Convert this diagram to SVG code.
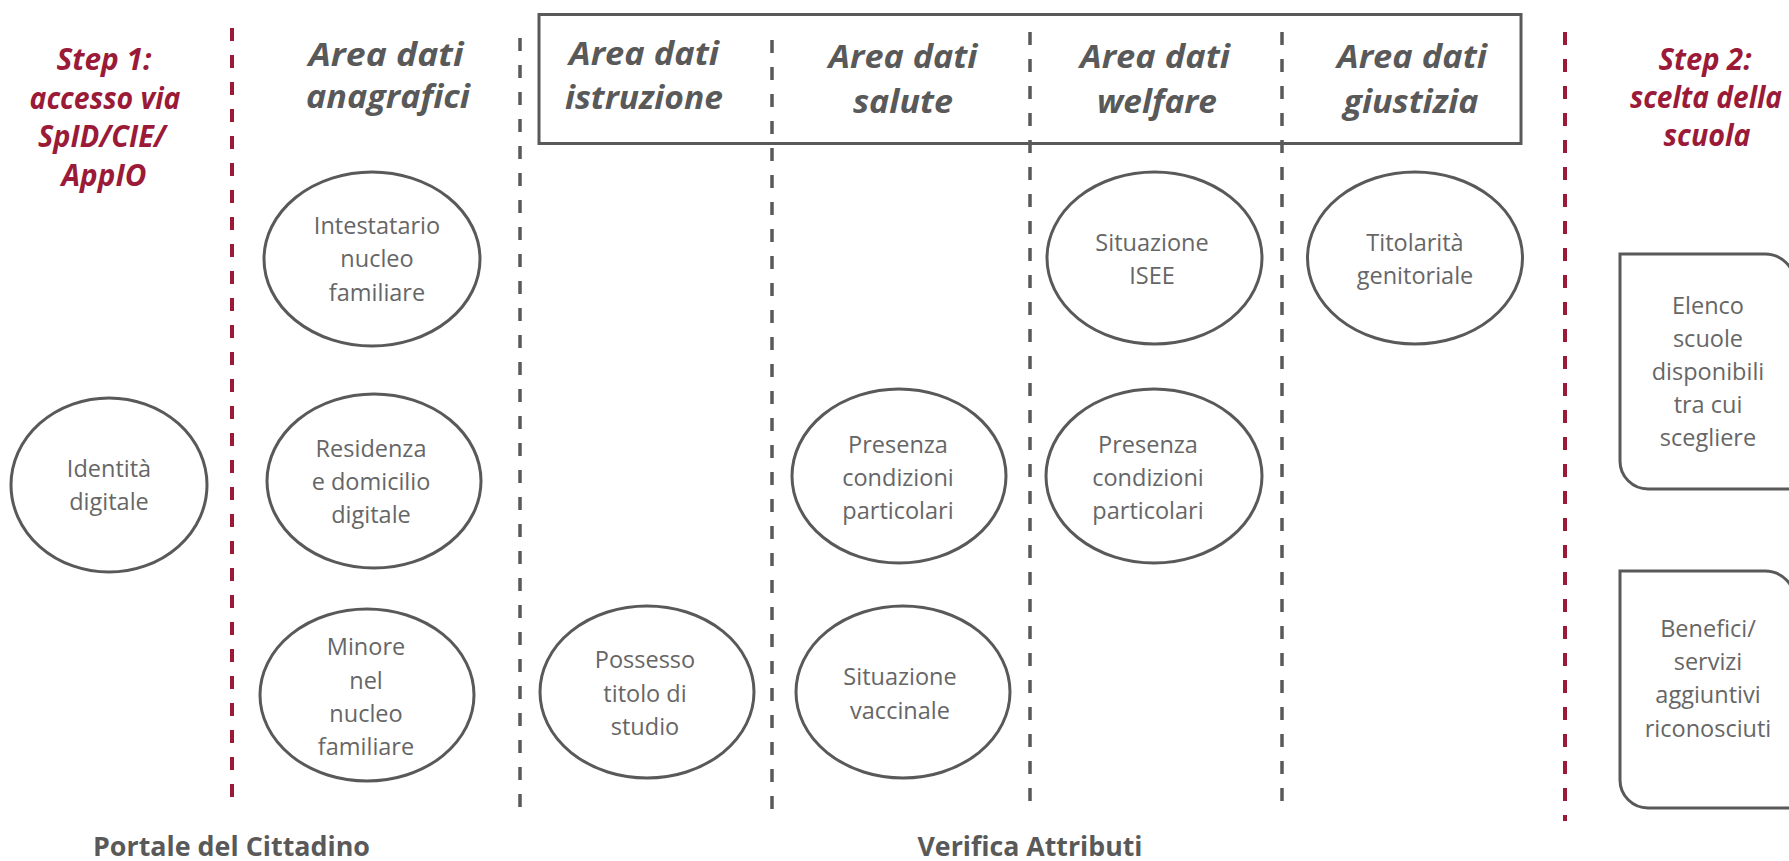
<svg xmlns="http://www.w3.org/2000/svg" width="1789" height="861" viewBox="0 0 1789 861">
  <style>
    .bg { fill: #ffffff; }
    .red { stroke: #9a1a38; stroke-width: 4; stroke-dasharray: 13 14; fill: none; }
    .gray { stroke: #595959; stroke-width: 3.5; stroke-dasharray: 13 14; fill: none; }
    .frame { stroke: #595959; stroke-width: 3; fill: none; }
    .node { stroke: #595959; stroke-width: 3; fill: #ffffff; }
    .step { font-family: "Open Sans", "Liberation Sans", sans-serif; font-weight: bold; font-style: italic; font-size: 30px; fill: #9a1a38; text-anchor: middle; }
    .head { font-family: "Open Sans", "Liberation Sans", sans-serif; font-weight: bold; font-style: italic; font-size: 32px; fill: #595959; text-anchor: middle; }
    .lbl { font-family: "Open Sans", "Liberation Sans", sans-serif; font-size: 23.5px; fill: #666666; text-anchor: middle; }
    .foot { font-family: "Open Sans", "Liberation Sans", sans-serif; font-weight: bold; font-size: 26px; fill: #595959; text-anchor: middle; }
  </style>
  <rect class="bg" x="0" y="0" width="1789" height="861"/>

  <g id="separators">
    <line class="red" x1="232" y1="28" x2="232" y2="808"/>
    <line class="gray" x1="520" y1="38" x2="520" y2="818"/>
    <line class="gray" x1="772" y1="40" x2="772" y2="818"/>
    <line class="gray" x1="1030" y1="32" x2="1030" y2="812"/>
    <line class="gray" x1="1282" y1="32" x2="1282" y2="812"/>
    <line class="red" x1="1565" y1="32" x2="1565" y2="821"/>
  </g>

  <g id="header-frame">
    <rect class="frame" x="539" y="14.5" width="982" height="129"/>
  </g>

  <g id="step1">
    <text class="step" x="104" y="70" textLength="95" lengthAdjust="spacingAndGlyphs">Step 1:</text>
    <text class="step" x="105" y="108.5" textLength="151" lengthAdjust="spacingAndGlyphs">accesso via</text>
    <text class="step" x="102" y="147" textLength="128" lengthAdjust="spacingAndGlyphs">SpID/CIE/</text>
    <text class="step" x="104" y="185.5" textLength="85" lengthAdjust="spacingAndGlyphs">AppIO</text>
  </g>

  <g id="step2">
    <text class="step" x="1705" y="70" textLength="93" lengthAdjust="spacingAndGlyphs">Step 2:</text>
    <text class="step" x="1706" y="108" textLength="152" lengthAdjust="spacingAndGlyphs">scelta della</text>
    <text class="step" x="1707" y="146" textLength="87" lengthAdjust="spacingAndGlyphs">scuola</text>
  </g>

  <g id="head-anagrafici">
    <text class="head" x="386" y="66" textLength="155" lengthAdjust="spacingAndGlyphs">Area dati</text>
    <text class="head" x="388" y="108" textLength="164" lengthAdjust="spacingAndGlyphs">anagrafici</text>
  </g>
  <g id="head-istruzione">
    <text class="head" x="644" y="65" textLength="150" lengthAdjust="spacingAndGlyphs">Area dati</text>
    <text class="head" x="644" y="109" textLength="158" lengthAdjust="spacingAndGlyphs">istruzione</text>
  </g>
  <g id="head-salute">
    <text class="head" x="903" y="68" textLength="149" lengthAdjust="spacingAndGlyphs">Area dati</text>
    <text class="head" x="903" y="113" textLength="100" lengthAdjust="spacingAndGlyphs">salute</text>
  </g>
  <g id="head-welfare">
    <text class="head" x="1155" y="68" textLength="150" lengthAdjust="spacingAndGlyphs">Area dati</text>
    <text class="head" x="1157" y="113" textLength="120" lengthAdjust="spacingAndGlyphs">welfare</text>
  </g>
  <g id="head-giustizia">
    <text class="head" x="1412" y="68" textLength="150" lengthAdjust="spacingAndGlyphs">Area dati</text>
    <text class="head" x="1411" y="113" textLength="135" lengthAdjust="spacingAndGlyphs">giustizia</text>
  </g>

  <g id="identita">
    <ellipse class="node" cx="109" cy="485" rx="98" ry="87"/>
    <text class="lbl" x="109" y="477">Identità</text>
    <text class="lbl" x="109" y="510">digitale</text>
  </g>

  <g id="intestatario">
    <ellipse class="node" cx="372" cy="259" rx="108" ry="87"/>
    <text class="lbl" x="377" y="233.5">Intestatario</text>
    <text class="lbl" x="377" y="267">nucleo</text>
    <text class="lbl" x="377" y="300.5">familiare</text>
  </g>

  <g id="residenza">
    <ellipse class="node" cx="374" cy="481" rx="107" ry="87"/>
    <text class="lbl" x="371" y="457">Residenza</text>
    <text class="lbl" x="371" y="490">e domicilio</text>
    <text class="lbl" x="371" y="523">digitale</text>
  </g>

  <g id="minore">
    <ellipse class="node" cx="367" cy="695" rx="107" ry="86"/>
    <text class="lbl" x="366" y="655">Minore</text>
    <text class="lbl" x="366" y="688.5">nel</text>
    <text class="lbl" x="366" y="721.5">nucleo</text>
    <text class="lbl" x="366" y="754.5">familiare</text>
  </g>

  <g id="possesso">
    <ellipse class="node" cx="647" cy="692" rx="107" ry="86"/>
    <text class="lbl" x="645" y="668">Possesso</text>
    <text class="lbl" x="645" y="701.5">titolo di</text>
    <text class="lbl" x="645" y="735">studio</text>
  </g>

  <g id="presenza-salute">
    <ellipse class="node" cx="899" cy="476" rx="107" ry="87"/>
    <text class="lbl" x="898" y="453">Presenza</text>
    <text class="lbl" x="898" y="486">condizioni</text>
    <text class="lbl" x="898" y="519">particolari</text>
  </g>

  <g id="vaccinale">
    <ellipse class="node" cx="903" cy="692" rx="107" ry="86"/>
    <text class="lbl" x="900" y="685">Situazione</text>
    <text class="lbl" x="900" y="718.5">vaccinale</text>
  </g>

  <g id="isee">
    <ellipse class="node" cx="1154.5" cy="258" rx="107.5" ry="86"/>
    <text class="lbl" x="1152" y="251">Situazione</text>
    <text class="lbl" x="1152" y="284">ISEE</text>
  </g>

  <g id="presenza-welfare">
    <ellipse class="node" cx="1154" cy="476" rx="108" ry="87"/>
    <text class="lbl" x="1148" y="453">Presenza</text>
    <text class="lbl" x="1148" y="486">condizioni</text>
    <text class="lbl" x="1148" y="519">particolari</text>
  </g>

  <g id="titolarita">
    <ellipse class="node" cx="1415" cy="258" rx="107.5" ry="86"/>
    <text class="lbl" x="1415" y="251">Titolarità</text>
    <text class="lbl" x="1415" y="284">genitoriale</text>
  </g>

  <g id="elenco-scuole">
    <path class="node" d="M1620,254 H1765 A30,30 0 0 1 1795,284 V489 H1648 A28,28 0 0 1 1620,461 Z"/>
    <text class="lbl" x="1708" y="314">Elenco</text>
    <text class="lbl" x="1708" y="347">scuole</text>
    <text class="lbl" x="1708" y="380">disponibili</text>
    <text class="lbl" x="1708" y="413">tra cui</text>
    <text class="lbl" x="1708" y="446">scegliere</text>
  </g>

  <g id="benefici">
    <path class="node" d="M1620,571 H1765 A30,30 0 0 1 1795,601 V808 H1648 A28,28 0 0 1 1620,780 Z"/>
    <text class="lbl" x="1708" y="637">Benefici/</text>
    <text class="lbl" x="1708" y="670">servizi</text>
    <text class="lbl" x="1708" y="703">aggiuntivi</text>
    <text class="lbl" x="1708" y="737">riconosciuti</text>
  </g>

  <g id="footer">
    <text class="foot" x="231.5" y="856" textLength="277" lengthAdjust="spacingAndGlyphs">Portale del Cittadino</text>
    <text class="foot" x="1030" y="856" textLength="225" lengthAdjust="spacingAndGlyphs">Verifica Attributi</text>
  </g>
</svg>
